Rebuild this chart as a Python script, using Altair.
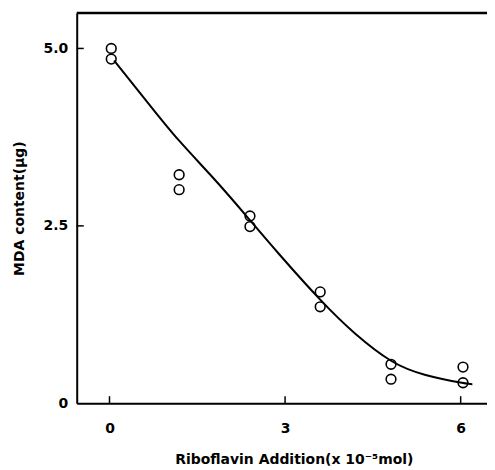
import altair as alt
import pandas as pd

# measured points (two replicates per dose)
dose = [0.03, 0.03, 1.19, 1.19, 2.4, 2.4, 3.6, 3.6, 4.81, 4.81, 6.04, 6.04]
mda = [5.0, 4.85, 3.22, 3.01, 2.64, 2.49, 1.57, 1.36, 0.55, 0.34, 0.51, 0.29]

# fitted curve
curve_x = [0.08, 0.66, 1.19, 1.8, 2.38, 2.9, 3.6, 4.2, 4.81, 5.4, 6.02, 6.2]
curve_y = [4.83, 4.23, 3.7, 3.15, 2.6, 2.1, 1.46, 0.98, 0.6, 0.4, 0.29, 0.27]

x_ticks = [0, 3, 6]
y_ticks = [0, 2.5, 5.0]
x_dom = [-0.56, 6.45]
y_dom = [0, 5.5]

FONT = "DejaVu Sans"

pts = pd.DataFrame({"x": dose, "y": mda})
crv = pd.DataFrame({"x": curve_x, "y": curve_y})

xs = alt.Scale(domain=x_dom, nice=False, zero=False)
ys = alt.Scale(domain=y_dom, nice=False, zero=False)

xaxis = alt.Axis(
    values=x_ticks, labelExpr="datum.value == 0 ? '0' : format(datum.value, 'd')",
    title="Riboflavin Addition(x 10⁻⁵mol)", grid=False, ticks=False,
    domainColor="black", domainWidth=2, labelFont=FONT, labelFontSize=14,
    labelFontWeight="bold", labelColor="black", labelPadding=18,
    titleFont=FONT, titleFontSize=14, titleFontWeight="bold", titleColor="black",
    titleX=218, titleY=60, titleBaseline="alphabetic",
)
yaxis = alt.Axis(
    values=y_ticks, labelExpr="datum.value == 0 ? '0' : format(datum.value, '.1f')",
    title="MDA content(μg)", grid=False, ticks=False,
    domainColor="black", domainWidth=2, labelFont=FONT, labelFontSize=14,
    labelFontWeight="bold", labelColor="black", labelPadding=9,
    titleFont=FONT, titleFontSize=14, titleFontWeight="bold", titleColor="black",
    titleX=-53, titleY=196, titleAngle=-90, titleBaseline="alphabetic",
)

line = alt.Chart(crv).mark_line(color="black", strokeWidth=2, interpolate="natural").encode(
    x=alt.X("x:Q", scale=xs, axis=xaxis),
    y=alt.Y("y:Q", scale=ys, axis=yaxis),
)

points = alt.Chart(pts).mark_point(shape="circle", size=95, filled=False, color="black",
                                   strokeWidth=1.6, opacity=1).encode(
    x=alt.X("x:Q", scale=xs),
    y=alt.Y("y:Q", scale=ys),
)

xt = pd.DataFrame({"x": x_ticks, "y0": [0] * 3, "y1": [0.1] * 3})
xtick = alt.Chart(xt).mark_rule(color="black", strokeWidth=1.5).encode(
    x=alt.X("x:Q", scale=xs), y=alt.Y("y0:Q", scale=ys), y2="y1:Q"
)
yt = pd.DataFrame({"y": [2.5, 5.0], "x0": [x_dom[0]] * 2, "x1": [x_dom[0] + 0.12] * 2})
ytick = alt.Chart(yt).mark_rule(color="black", strokeWidth=1.5).encode(
    y=alt.Y("y:Q", scale=ys), x=alt.X("x0:Q", scale=xs), x2="x1:Q"
)
top = pd.DataFrame({"y": [y_dom[1]], "x0": [x_dom[0]], "x1": [x_dom[1]]})
topline = alt.Chart(top).mark_rule(color="black", strokeWidth=2.5).encode(
    y=alt.Y("y:Q", scale=ys), x=alt.X("x0:Q", scale=xs), x2="x1:Q"
)

chart = alt.layer(topline, xtick, ytick, line, points).properties(
    width=412, height=392,
    autosize=alt.AutoSizeParams(type="none"),
    padding={"left": 69, "top": 4, "right": 0, "bottom": 66},
    background="white",
).configure_view(strokeWidth=0)

chart.save("out.html", embed_options={"renderer": "svg", "actions": False})
